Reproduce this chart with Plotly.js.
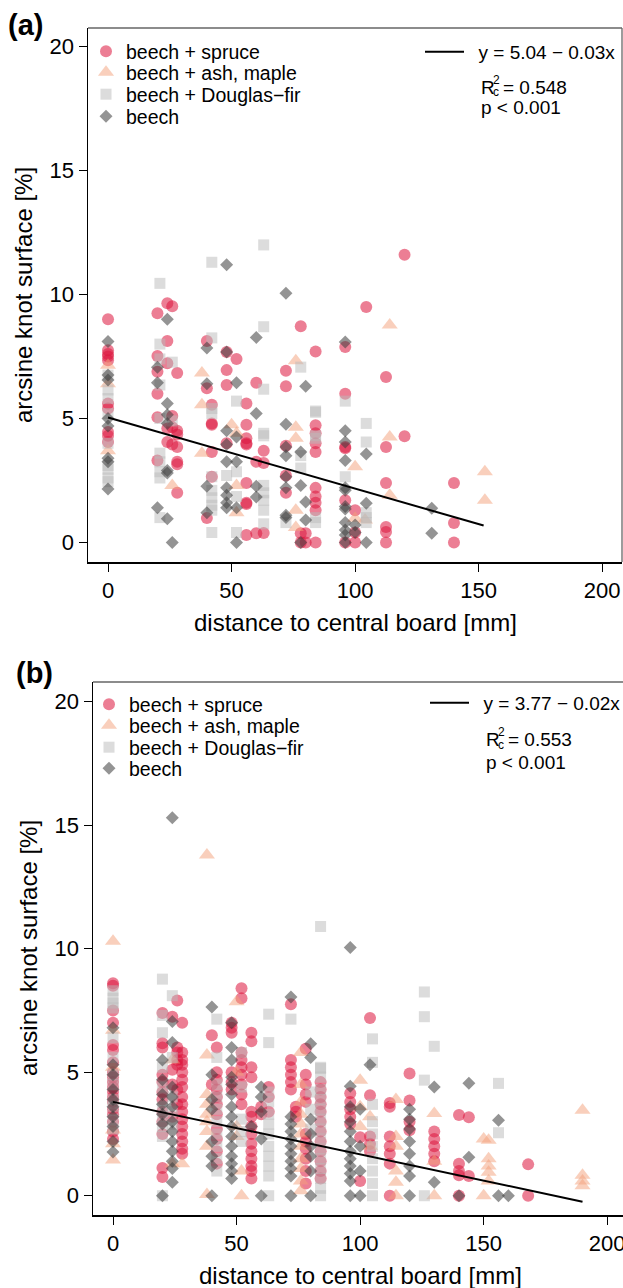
<!DOCTYPE html>
<html>
<head>
<meta charset="utf-8">
<script src="https://cdn.plot.ly/plotly-3.0.1.min.js"></script>
<style>
html,body{margin:0;padding:0;background:#fff;overflow:hidden;}
#chart{width:632px;height:1288px;}
</style>
</head>
<body>
<div id="chart"></div>
<script>
// ---------- DATA (distance [mm], [arcsine knot surface %]) ----------
const xTicks = [0, 50, 100, 150, 200];
const yTicks = [0, 5, 10, 15, 20];
const seriesNames = ["beech + spruce", "beech + ash, maple", "beech + Douglas\u2212fir", "beech"];

// Panel (a)
const aSpruce = [
  [0,[9.0,7.75,7.6,7.5,7.35,5.6,5.4,4.45,4.3,4.05]],
  [20,[9.24,7.52,6.88,6.0,5.05,3.3]],
  [24,[9.65,8.12,7.23,4.6,4.05]],
  [26,[9.53,5.1,4.65,3.95]],
  [28,[6.83,4.5,4.35,3.85,3.25,3.15,2.0]],
  [40,[8.12,6.22,0.98]],
  [42,[5.55,4.8,4.75,3.65,2.65]],
  [48,[7.68,6.95,6.35,4.0]],
  [52,[7.4]],
  [56,[5.6,4.75,4.2,4.0,3.95,2.4,1.6,1.55,0.3]],
  [60,[6.44,3.25,0.37]],
  [63,[3.7,3.2,0.38]],
  [72,[6.92,6.3,3.9,2.7,2.0]],
  [78,[8.72,0.37,0.0]],
  [80,[0.37,0.0]],
  [84,[7.7,4.73,4.4,4.0,3.65,2.2,1.85,1.6,1.3,0.0]],
  [96,[7.88,6.0,3.85,3.8,1.7,0.0]],
  [100,[1.3,0.4,0.0]],
  [104.5,[9.5]],
  [112.5,[6.67,3.85,2.4,0.62,0.42,0.0]],
  [120,[11.6,4.28]],
  [140,[2.4,0.78,0.0]]
];
const aAsh = [
  [0,[7.15,6.4,3.7]],
  [26,[2.3]],
  [38,[6.83,5.55,3.6]],
  [50,[4.75]],
  [52,[4.4,2.3,1.2]],
  [76,[7.33,4.65,4.2,1.3,0.6]],
  [100,[3.05,0.97]],
  [104,[0.9]],
  [114,[8.77,4.25,1.9]],
  [152.5,[2.85,1.7]]
];
const aDouglas = [
  [0,[6.75,6.15,5.8,5.2,4.0,3.1,2.95,2.6,2.45]],
  [21,[10.45,8.0,7.4,6.35,5.0,3.6,3.25,2.85,2.6,1.0]],
  [26,[7.27,4.9]],
  [42,[11.3,8.25,5.4,5.2,2.65,2.1,1.8,1.5,1.3,0.4]],
  [48,[2.7]],
  [52,[5.7,2.85,1.85,0.4]],
  [63,[12.0,8.7,6.18,4.4,4.3,2.3,2.0,1.7,1.3,0.75]],
  [72,[0.8]],
  [78,[7.07,3.5,3.0]],
  [84,[5.3,5.25,4.3,4.2,1.0,0.8]],
  [96,[5.7,2.65]],
  [104.5,[4.8,4.05,1.2,1.0,0.8]]
];
const aBeech = [
  [0,[8.1,6.75,6.55,5.0,4.7,3.4,3.25,2.15]],
  [20,[7.07,6.44,1.4]],
  [24,[9.0,5.6,5.15,4.8,2.9,2.8,0.95]],
  [26,[0.0]],
  [40,[7.84,6.4,2.27,1.2]],
  [48,[11.2,7.68,4.5,3.95,3.25,2.2,1.9,1.6,1.4]],
  [52,[6.44,4.25,3.25,1.4,0.0]],
  [60,[8.27,5.2,2.27,1.83]],
  [72,[10.05,4.77,3.85,3.5,2.65,2.2,1.1,1.0]],
  [78,[3.65,2.3,0.0]],
  [80,[6.3,1.63,0.9]],
  [96,[8.08,4.5,4.05,3.3,2.2,2.1,1.45,1.35,0.8,0.5,0.3,0.0]],
  [100,[0.7,0.4]],
  [104.5,[3.57,1.58,0.0]],
  [131,[1.38,0.37]]
];
const aFitX = [0, 152];
const aFitY = [5.04, 0.68];
const aFitLabel = "y = 5.04 \u2212 0.03x";
const aR2 = "0.548";
const aP = "p < 0.001";

// Panel (b)
const bSpruce = [
  [0,[8.6,8.5,7.5,7.0,6.1,5.9,5.4,5.0,4.8,4.6,4.4,4.2,4.0,3.8,3.5,3.3,3.0,2.6,2.3]],
  [20,[7.4,6.17,6.0,4.9,4.6,4.2,3.9,3.4,3.0,2.5,1.12,0.76]],
  [24,[7.25,5.1,4.5,3.2]],
  [26,[7.9,6.0,5.8,5.5,5.3,4.3,3.7]],
  [28,[7.0,5.8,5.5,5.3,5.0,4.7,4.4,4.0,3.7,3.4,3.1,2.8,2.5,2.2,1.9,1.7]],
  [40,[6.5,4.5]],
  [42,[6.0,5.0,4.7,4.3,4.0,3.7,3.3,2.7,2.3,1.8,1.3]],
  [48,[7.0,6.8,6.6,5.0,4.6,4.3]],
  [52,[8.4,8.0,5.8,5.5,5.2,4.9,4.5,4.1,3.7]],
  [56,[6.6,6.25,5.2,4.8,3.4,3.2,2.8,2.5,2.1,1.8,1.5,1.2,1.0,0.7]],
  [60,[3.6,3.3]],
  [63,[4.4,4.0,3.4]],
  [72,[7.75,5.5,5.2,4.9,4.6,4.3]],
  [74,[3.6,3.4,3.2]],
  [78,[5.95,4.9,4.5,4.1,3.8,2.5,2.2,1.9,1.5,1.0,0.5]],
  [84,[4.6,4.3,4.0,3.7,3.4,3.0,2.6,2.2,1.8,1.4,1.0,0.7]],
  [96,[4.15,3.8,3.5,3.2,2.9]],
  [100,[2.37,0.6]],
  [104,[7.2,4.07,2.4,2.1,1.8]],
  [112,[3.75,3.6,2.4,2.0,1.7,1.3,0.0]],
  [120,[4.95,3.86,3.0,2.65]],
  [130,[2.6,2.3,2.0,1.7,1.4]],
  [140,[3.27,1.3,1.0,0.83,0.0]],
  [144,[3.18,0.8]],
  [168,[1.27,0.0]]
];
const bAsh = [
  [0,[10.3,6.7,5.2,2.66,2.1,1.45]],
  [24,[5.5,1.3]],
  [28,[1.3]],
  [38,[13.8,5.7,4.1,3.7,3.3,3.0,2.6,2.0,0.05]],
  [50,[7.85,5.0,2.8,2.4]],
  [52,[1.0,0.0]],
  [76,[5.8,4.5,3.8,3.3,2.9,2.5,2.0,1.5,1.1,0.6,0.2]],
  [100,[4.68,3.6,2.8]],
  [104,[3.2,2.0]],
  [114.5,[3.9,2.4,2.0,1.0,0.55,0.0]],
  [130,[3.33,1.4,0.0]],
  [150,[2.3,0.0]],
  [152,[2.25,1.5,1.2,0.95,0.6]],
  [190,[3.46,0.83,0.6,0.4]]
];
const bDouglas = [
  [0,[8.3,8.0,7.8,7.6,6.4,5.6,4.9,4.5,3.9,3.6,3.1,2.7]],
  [20,[8.77,7.3,6.6,5.2,4.4,3.6,3.2,2.8,2.4,0.0]],
  [24,[8.1,5.6,4.0,3.4,2.9]],
  [42,[7.15,5.6,4.5,4.0,3.5,3.0,2.5,2.0,1.5,1.0]],
  [52,[5.8,4.4,3.1,2.6,2.2]],
  [63,[7.35,6.2,4.2,3.8,3.3,2.9,2.5,2.0,1.6,1.2,0.8,0.0]],
  [72,[7.15]],
  [80,[4.2,3.5,2.7]],
  [84,[10.9,5.2,5.15,4.8,4.3,3.9,3.5,3.1,2.7,2.3,1.9,1.5,1.1,0.7,0.3,0.0]],
  [105,[6.35,5.4,3.7,3.0,2.5,2.0,1.5,1.0,0.5,0.0]],
  [126,[8.25,7.25,4.68,0.0]],
  [130,[6.05]],
  [156,[4.55,2.55]]
];
const bBeech = [
  [0,[6.8,5.3,4.9,4.3,3.9,3.6,3.2,2.8,2.2,1.77]],
  [20,[5.5,4.7,4.1,3.7,3.3,2.9,0.0]],
  [24,[15.3,7.05,6.2,4.4,4.0,3.6,3.0,2.6,2.2,1.8,1.4,1.1,0.55]],
  [40,[7.64,4.9,3.9,3.5,2.2,1.6,1.2,0.0]],
  [48,[7.0,6.0,5.5,4.8,4.5,4.1,3.6,3.2,2.8,2.4,2.0,1.6,1.3,1.0,0.7]],
  [56,[2.8]],
  [60,[4.4,4.0,3.4,2.3,0.0]],
  [72,[8.05,3.2,2.9,2.6,2.3,2.0,1.7,1.4,1.1,0.8,0.0]],
  [80,[6.15,5.6,3.1,2.5,2.0,1.6,1.0,0.0]],
  [96,[10.05,4.43,3.6,3.0,2.6,2.2,1.8,1.5,1.2,0.9,0.6,0.0]],
  [100,[3.5,2.0,1.0,0.0]],
  [104,[5.3]],
  [120,[3.5,3.1,2.7,2.2,1.7,1.2,0.8,0.0]],
  [130,[4.4,0.55]],
  [140,[0.0]],
  [144,[4.55,1.56]],
  [156,[3.06,0.0]],
  [160,[0.0]]
];
const bFitX = [0, 190];
const bFitY = [3.8, -0.24];
const bFitLabel = "y = 3.77 \u2212 0.02x";
const bR2 = "0.553";
const bP = "p < 0.001";

// ---------- STYLE ----------
const W = 632, H = 1288;
const FONT = "Liberation Sans, Arial, Helvetica, sans-serif";
const markerStyles = [
  {symbol: "circle", size: 12, color: "rgba(220,20,60,0.55)"},
  {symbol: "triangle-up", size: 14, color: "rgba(244,160,122,0.5)"},
  {symbol: "square", size: 11, color: "rgba(185,185,185,0.5)"},
  {symbol: "diamond", size: 10, color: "rgba(60,60,60,0.55)"}
];

function flatX(cols){ const o=[]; cols.forEach(c=>c[1].forEach(()=>o.push(c[0]))); return o; }
function flatY(cols){ const o=[]; cols.forEach(c=>c[1].forEach(v=>o.push(v))); return o; }

function panelTraces(groups, fitX, fitY, fitLabel, xa, ya, legs, legLine){
  const t = groups.map((g, i) => ({
    type: "scatter", mode: "markers",
    x: flatX(g), y: flatY(g), xaxis: xa, yaxis: ya,
    name: seriesNames[i], legend: legs[i], showlegend: true,
    marker: {symbol: markerStyles[i].symbol, size: markerStyles[i].size,
             color: markerStyles[i].color, line: {width: 0}},
    hoverinfo: "skip"
  }));
  t.push({type: "scatter", mode: "lines", x: fitX, y: fitY, xaxis: xa, yaxis: ya,
          name: "\u2002" + fitLabel, legend: legLine, showlegend: true,
          line: {color: "#000", width: 2}, hoverinfo: "skip"});
  return t;
}

const traces = [].concat(
  panelTraces([aSpruce, aAsh, aDouglas, aBeech], aFitX, aFitY, aFitLabel, "x", "y",
              ["legend", "legend2", "legend3", "legend4"], "legend5"),
  panelTraces([bSpruce, bAsh, bDouglas, bBeech], bFitX, bFitY, bFitLabel, "x2", "y2",
              ["legend6", "legend7", "legend8", "legend9"], "legend10")
);

function xAxis(l, r, anchor){
  return {domain: [l/W, r/W], range: [-8.1, 208], anchor: anchor,
    tickmode: "array", tickvals: xTicks, ticks: "outside", ticklen: 8, tickwidth: 1, tickcolor: "#000",
    showline: true, linecolor: "#000", linewidth: 1.5, showgrid: false, zeroline: false,
    tickfont: {size: 22, color: "#000", family: FONT}};
}
function yAxis(top, bottom, range, anchor){
  return {domain: [1 - bottom/H, 1 - top/H], range: range, anchor: anchor,
    tickmode: "array", tickvals: yTicks, ticks: "outside", ticklen: 8, tickwidth: 1, tickcolor: "#000",
    showline: true, linecolor: "#000", linewidth: 1.5, showgrid: false, zeroline: false,
    tickfont: {size: 22, color: "#000", family: FONT}};
}
function frame(l, r, top, bottom){
  return [
    {type: "line", xref: "paper", yref: "paper", x0: l/W, x1: r/W, y0: 1-top/H, y1: 1-top/H, line: {color: "#666", width: 1.3}},
    {type: "line", xref: "paper", yref: "paper", x0: r/W, x1: r/W, y0: 1-bottom/H, y1: 1-top/H, line: {color: "#666", width: 1.3}}
  ];
}
function ann(text, x, y, size, opts){
  return Object.assign({text: text, xref: "paper", yref: "paper", x: x/W, y: 1 - y/H,
    showarrow: false, xanchor: "left", yanchor: "middle",
    font: {size: size, color: "#000", family: FONT}}, opts || {});
}
function statAnns(rx, ry, r2, pText, pY){
  return [
    ann("R", rx, ry, 19),
    ann("2", rx + 12, ry - 8, 12, {height: 11}),
    ann("c", rx + 12, ry + 5, 12, {height: 11}),
    ann("= " + r2, rx + 22, ry, 19),
    ann(pText, rx, pY, 19)
  ];
}
// one legend box per row so the row spacing matches the original
function legendBox(x, rowY, size, iw){
  return {x: x/W, y: 1 - (rowY - 19)/H, xanchor: "left", yanchor: "top", bgcolor: "rgba(0,0,0,0)",
          borderwidth: 0, itemwidth: iw || 30, tracegroupgap: 0, visible: true,
          font: {size: size, color: "#000", family: FONT}};
}

const layout = {
  width: W, height: H, margin: {l: 0, r: 0, t: 0, b: 0},
  paper_bgcolor: "#fff", plot_bgcolor: "#fff",
  font: {family: FONT, color: "#000"},
  showlegend: true,
  xaxis: xAxis(88, 622, "y"),
  yaxis: yAxis(28, 562, [-0.79, 20.75], "x"),
  xaxis2: xAxis(93, 627, "y2"),
  yaxis2: yAxis(682, 1215, [-0.78, 20.8], "x2"),
  legend:  legendBox(86, 51, 19.5),
  legend2: legendBox(86, 72, 19.5),
  legend3: legendBox(86, 94, 19.5),
  legend4: legendBox(86, 116, 19.5),
  legend5: legendBox(420, 52, 19, 39),
  legend6: legendBox(89, 704, 19.5),
  legend7: legendBox(89, 725, 19.5),
  legend8: legendBox(89, 747, 19.5),
  legend9: legendBox(89, 768, 19.5),
  legend10: legendBox(425, 703, 19, 39),
  shapes: [].concat(frame(88, 622, 28, 562), frame(93, 627, 682, 1215)),
  annotations: [
    ann("<b>(a)</b>", 6, 25, 29),
    ann("<b>(b)</b>", 14, 673, 29),
    ann("arcsine knot surface [%]", 23, 295, 24, {xanchor: "center", textangle: -90}),
    ann("arcsine knot surface [%]", 28, 948, 24, {xanchor: "center", textangle: -90}),
    ann("distance to central board [mm]", 355, 622, 24, {xanchor: "center"}),
    ann("distance to central board [mm]", 360, 1275, 24, {xanchor: "center"})
  ].concat(statAnns(479, 87, aR2, aP, 108), statAnns(484, 739, bR2, bP, 762))
};

Plotly.newPlot("chart", traces, layout, {displayModeBar: false, staticPlot: true});
</script>
</body>
</html>
